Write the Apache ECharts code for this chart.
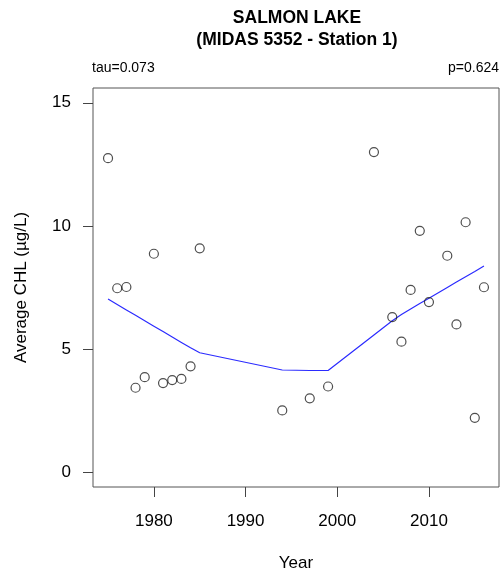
<!DOCTYPE html>
<html>
<head>
<meta charset="utf-8">
<script src="https://cdn.jsdelivr.net/npm/echarts@6/dist/echarts.min.js"></script>
<style>
  html, body { margin: 0; padding: 0; background: #fff; }
  #chart { width: 502px; height: 573px; }
</style>
</head>
<body>
<div id="chart"></div>
<script>
// observed yearly averages
const years = [1975, 1976, 1977, 1978, 1979, 1980, 1981, 1982, 1983, 1984, 1985,
  1994, 1997, 1999, 2004, 2006, 2007, 2008, 2009, 2010, 2012, 2013, 2014, 2015, 2016];
const chl = [12.75, 7.47, 7.52, 3.43, 3.86, 8.87, 3.62, 3.74, 3.79, 4.30, 9.09,
  2.51, 3.00, 3.48, 13.0, 6.30, 5.30, 7.40, 9.80, 6.91, 8.79, 6.00, 10.15, 2.21, 7.51];
// smoothed trend line
const trend = [7.03, 6.81, 6.59, 6.37, 6.15, 5.93, 5.71, 5.49, 5.27, 5.05, 4.85,
  4.15, 4.13, 4.13, 5.57, 6.15, 6.40, 6.63, 6.85, 7.06, 7.50, 7.72, 7.94, 8.15, 8.37];

const xTicks = [1980, 1990, 2000, 2010];
const yTicks = [0, 5, 10, 15];

const font = '"Liberation Sans", Arial, sans-serif';
const chart = echarts.init(document.getElementById('chart'));

chart.setOption({
  animation: false,
  title: [
    {
      text: 'SALMON LAKE\n(MIDAS 5352 - Station 1)',
      left: 297, top: 7, padding: 0, textAlign: 'center',
      textStyle: { fontFamily: font, fontSize: 17.5, fontWeight: 'bold', color: '#000', lineHeight: 22 }
    },
    {
      text: 'tau=0.073', left: 92, top: 61, padding: 0,
      textStyle: { fontFamily: font, fontSize: 14, fontWeight: 'normal', color: '#000' }
    },
    {
      text: 'p=0.624', right: 3, top: 61, padding: 0,
      textStyle: { fontFamily: font, fontSize: 14, fontWeight: 'normal', color: '#000' }
    }
  ],
  grid: {
    left: 93, top: 88, right: 3, bottom: 86,
    containLabel: false, outerBoundsMode: 'none',
    show: true, borderColor: '#555', borderWidth: 1, backgroundColor: 'transparent'
  },
  xAxis: {
    type: 'value',
    min: 1973.36, max: 2017.64,
    name: 'Year', nameLocation: 'middle', nameGap: 68,
    nameTextStyle: { fontFamily: font, fontSize: 17, color: '#000' },
    axisLine: { show: false, onZero: false },
    splitLine: { show: false },
    axisTick: { show: true, length: 10, customValues: xTicks, lineStyle: { color: '#444' } },
    axisLabel: {
      customValues: xTicks, margin: 26, fontFamily: font, fontSize: 17, color: '#000',
      formatter: v => String(v)
    }
  },
  yAxis: {
    type: 'value',
    min: -0.6, max: 15.6,
    name: 'Average CHL (\u00b5g/L)', nameLocation: 'middle', nameGap: 63, nameRotate: 90,
    nameTextStyle: { fontFamily: font, fontSize: 17, color: '#000' },
    axisLine: { show: false, onZero: false },
    splitLine: { show: false },
    axisTick: { show: true, length: 10, customValues: yTicks, lineStyle: { color: '#444' } },
    axisLabel: { customValues: yTicks, margin: 22, fontFamily: font, fontSize: 17, color: '#000' }
  },
  series: [
    {
      type: 'line',
      data: years.map((y, i) => [y, trend[i]]),
      showSymbol: false,
      lineStyle: { color: '#2b2bff', width: 1.2 },
      z: 2
    },
    {
      type: 'scatter',
      data: years.map((y, i) => [y, chl[i]]),
      symbol: 'circle',
      symbolSize: 9,
      itemStyle: { color: 'rgba(255,255,255,0)', borderColor: '#222', borderWidth: 1.2 },
      z: 3
    }
  ]
});
</script>
</body>
</html>
